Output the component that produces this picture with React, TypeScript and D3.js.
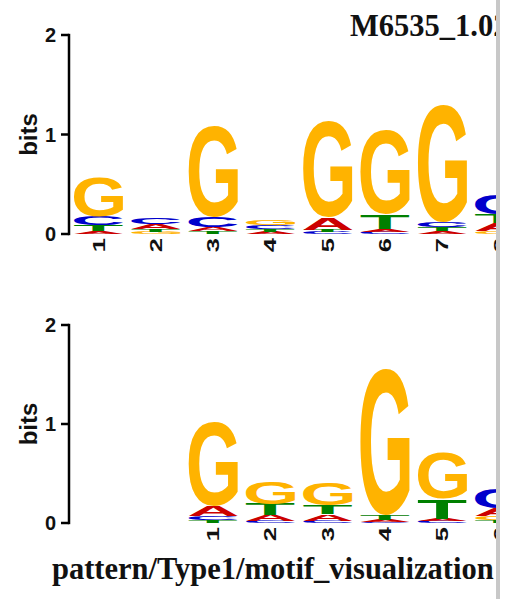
import React, { useMemo } from "react";
import * as d3 from "d3";

// ---------- data ----------
const LETTERS = ["A", "C", "G", "T"];
const COLORS: Record<string, string> = { A: "#CC0000", C: "#0000CC", G: "#FFB300", T: "#008000" };

// top logo (M6535_1.02), bits per letter per position
const topPositions = [1, 2, 3, 4, 5, 6, 7, 8];
const topA = [0.03, 0.05, 0.04, 0.02, 0.12, 0.03, 0.03, 0.08];
const topC = [0.09, 0.07, 0.1, 0.035, 0.02, 0.025, 0.05, 0.2];
const topG = [0.4, 0.02, 0.92, 0.05, 0.97, 0.85, 1.18, 0.03];
const topT = [0.06, 0.03, 0.03, 0.03, 0.025, 0.14, 0.04, 0.09];

// bottom logo (pattern/Type1/motif_visualization), aligned 2 columns right
const bottomOffset = 2;
const botPositions = [1, 2, 3, 4, 5, 6];
const botA = [0.1, 0.06, 0.07, 0.02, 0.025, 0.08];
const botC = [0.04, 0.02, 0.02, 0.015, 0.02, 0.2];
const botG = [0.85, 0.22, 0.22, 1.48, 0.46, 0.04];
const botT = [0.03, 0.11, 0.09, 0.05, 0.2, 0.03];

const yTicks = [0, 1, 2];
const titleText = "M6535_1.02";
const footerText = "pattern/Type1/motif_visualization";

// ---------- layout ----------
const W = 513;
const H = 599;
const CLIP_W = 496;
const SANS = "'Liberation Sans', Arial, Helvetica, sans-serif";
const SERIF = "'Liberation Serif', 'Times New Roman', serif";

function useGlyphMetrics() {
  return useMemo(() => {
    const ctx = document.createElement("canvas").getContext("2d")!;
    ctx.font = `bold 100px ${SANS}`;
    const out: Record<string, { L: number; R: number; A: number; D: number }> = {};
    for (const l of LETTERS) {
      const m = ctx.measureText(l);
      out[l] = {
        L: m.actualBoundingBoxLeft,
        R: m.actualBoundingBoxRight,
        A: m.actualBoundingBoxAscent,
        D: m.actualBoundingBoxDescent,
      };
    }
    return out;
  }, []);
}

type Logo = {
  positions: number[];
  A: number[];
  C: number[];
  G: number[];
  T: number[];
  offset: number;
  y0: number;
  y2: number;
};

const logos: Logo[] = [
  { positions: topPositions, A: topA, C: topC, G: topG, T: topT, offset: 0, y0: 234, y2: 35 },
  { positions: botPositions, A: botA, C: botC, G: botG, T: botT, offset: bottomOffset, y0: 523, y2: 325 },
];

const AXIS_X = 69;

export default function App() {
  const metrics = useGlyphMetrics();
  const x = d3
    .scaleBand<number>()
    .domain(d3.range(1, 11))
    .range([70, 70 + 10 * 57.3])
    .paddingInner(0.14)
    .paddingOuter(0.07);

  return (
    <svg
      width={W}
      height={H}
      style={{ position: "absolute", left: 0, top: 0, background: "#fff" }}
    >
      <defs>
        <clipPath id="clipArea">
          <rect x={0} y={0} width={CLIP_W} height={H} />
        </clipPath>
      </defs>
      <rect x={0} y={0} width={W} height={H} fill="#fff" />
      <g clipPath="url(#clipArea)">
        {logos.map((logo, li) => {
          const y = d3.scaleLinear().domain([0, 2]).range([logo.y0, logo.y2]);
          return (
            <g key={li}>
              {/* y axis */}
              <line x1={AXIS_X} x2={AXIS_X} y1={y(0) + 1.2} y2={y(2) - 1.2} stroke="#000" strokeWidth={2.5} />
              {yTicks.map((t) => (
                <g key={t}>
                  <line x1={AXIS_X - 8} x2={AXIS_X} y1={y(t)} y2={y(t)} stroke="#000" strokeWidth={2.5} />
                  <text
                    x={56}
                    y={y(t)}
                    textAnchor="end"
                    dominantBaseline="central"
                    fontFamily={SANS}
                    fontWeight="bold"
                    fontSize={20}
                    fill="#111"
                  >
                    {t}
                  </text>
                </g>
              ))}
              <text
                transform={`translate(37, ${y(1)}) rotate(-90)`}
                textAnchor="middle"
                fontFamily={SANS}
                fontWeight="bold"
                fontSize={24}
                fill="#111"
              >
                bits
              </text>
              {/* stacks */}
              {logo.positions.map((p, i) => {
                const col = p + logo.offset;
                const x0 = x(col)!;
                const bw = x.bandwidth();
                const items = LETTERS.map((l) => ({ l, v: (logo as any)[l][i] as number }))
                  .sort((a, b) => a.v - b.v);
                let base = 0;
                const glyphs = items.map(({ l, v }) => {
                  const yBottom = y(base);
                  base += v;
                  const yTop = y(base);
                  const h = yBottom - yTop;
                  const m = metrics[l];
                  const sx = bw / (m.L + m.R);
                  const sy = h / (m.A + m.D);
                  return (
                    <text
                      key={l}
                      transform={`translate(${x0}, ${yTop}) scale(${sx}, ${sy}) translate(${m.L}, ${m.A})`}
                      fontFamily={SANS}
                      fontWeight="bold"
                      fontSize={100}
                      fill={COLORS[l]}
                    >
                      {l}
                    </text>
                  );
                });
                return (
                  <g key={p}>
                    {glyphs}
                    <text
                      transform={`translate(${x0 + bw / 2}, ${logo.y0 + 4}) rotate(-90) scale(1.5, 1)`}
                      textAnchor="end"
                      dominantBaseline="central"
                      fontFamily={SANS}
                      fontWeight="bold"
                      fontSize={17}
                      fill="#111"
                    >
                      {p}
                    </text>
                  </g>
                );
              })}
            </g>
          );
        })}
        <text x={350} y={36} fontFamily={SERIF} fontWeight="bold" fontSize={30.5} fill="#111">
          {titleText}
        </text>
        <text x={52} y={579} fontFamily={SERIF} fontWeight="bold" fontSize={30.5} fill="#111">
          {footerText}
        </text>
      </g>
      <rect x={CLIP_W} y={0} width={4} height={H} fill="#c8c8c8" />
    </svg>
  );
}
